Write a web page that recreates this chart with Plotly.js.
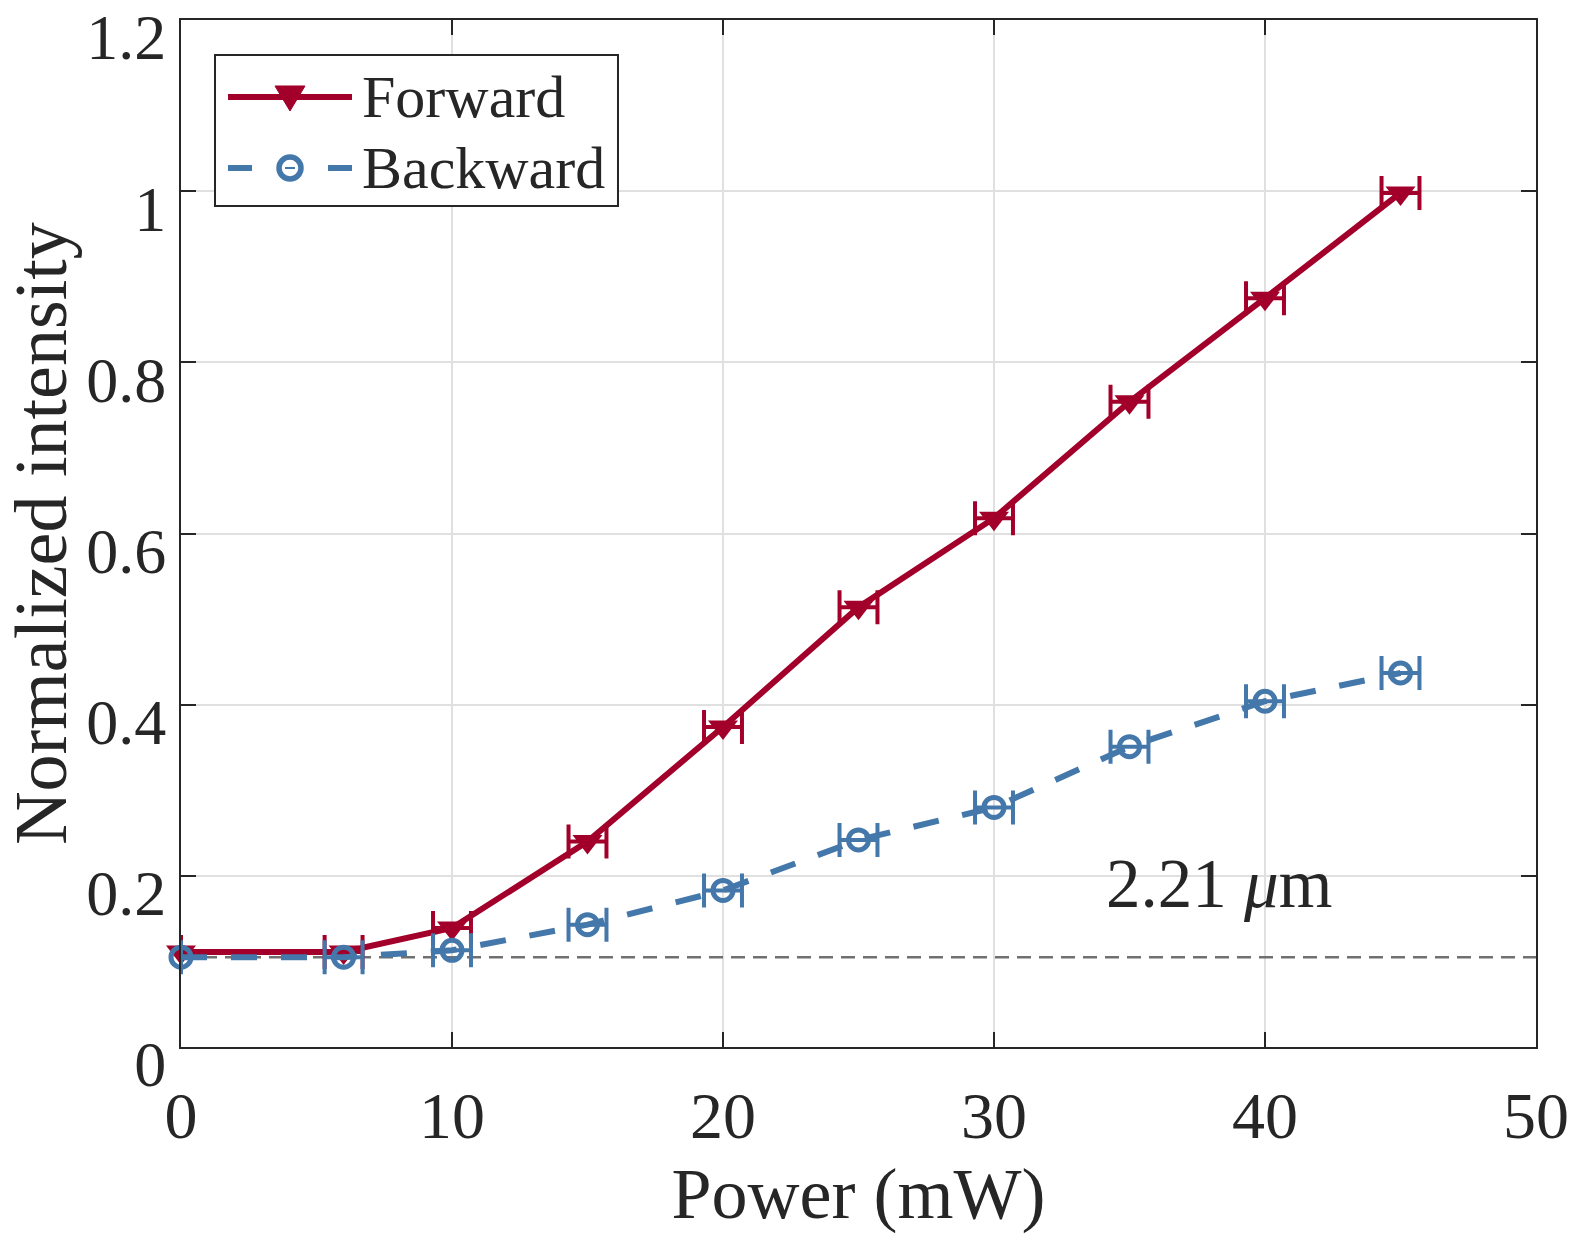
<!DOCTYPE html>
<html>
<head>
<meta charset="utf-8">
<script src="https://cdn.plot.ly/plotly-3.0.1.min.js"></script>
<style>html,body{margin:0;padding:0;background:#fff;}#chart{width:1570px;height:1234px;}</style>
</head>
<body>
<div id="chart"></div>
<script>
const power = [0, 6, 10, 15, 20, 25, 30, 35, 40, 45];
const forward = [0.111, 0.111, 0.139, 0.240, 0.374, 0.514, 0.618, 0.754, 0.875, 0.998];
const backward = [0.105, 0.105, 0.113, 0.143, 0.183, 0.242, 0.280, 0.351, 0.404, 0.437];
const powerErr = [null, 0.7, 0.7, 0.7, 0.7, 0.7, 0.7, 0.7, 0.7, 0.7];
const baselineX = [0, 50];
const baselineY = [0.105, 0.105];
const seriesNames = ['Forward', 'Backward'];
const labelText = '2.21 <i>μ</i>m';
const labelPos = {x: 38.3, y: 0.19};
const xTicks = [0, 10, 20, 30, 40, 50];
const yTicks = [0, 0.2, 0.4, 0.6, 0.8, 1, 1.2];

const red = '#A2002A';
const blue = '#4477AA';
const ink = '#262626';

const traces = [
  {
    x: baselineX, y: baselineY, mode: 'lines', showlegend: false, hoverinfo: 'skip',
    line: {color: '#707070', width: 2.5, dash: '14px,8px'}
  },
  {
    x: power, y: forward, name: seriesNames[0], mode: 'lines+markers', showlegend: false,
    cliponaxis: false,
    line: {color: red, width: 6},
    marker: {symbol: 'triangle-down', size: 26, color: red},
    error_x: {type: 'data', array: powerErr, visible: true, color: red, thickness: 4, width: 17}
  },
  {
    x: power, y: backward, name: seriesNames[1], mode: 'lines+markers', showlegend: false,
    cliponaxis: false,
    line: {color: blue, width: 6, dash: '26px,24px'},
    marker: {symbol: 'circle-open', size: 20, color: blue, line: {color: blue, width: 5}},
    error_x: {type: 'data', array: powerErr, visible: true, color: blue, thickness: 4, width: 17}
  }
];

const font = {family: '"Liberation Serif", "Times New Roman", serif', color: ink};
const f = s => Object.assign({size: s}, font);

// legend drawn as a framed key in paper coordinates
const shapes = [
  {type: 'rect', xref: 'paper', yref: 'paper', x0: 0.0251, x1: 0.3225, y0: 0.8189, y1: 0.9659,
   line: {color: ink, width: 2}, fillcolor: '#fff', layer: 'above'},
  {type: 'line', xref: 'paper', yref: 'paper', x0: 0.0347, x1: 0.1262, y0: 0.9250, y1: 0.9250,
   line: {color: red, width: 6}, layer: 'above'},
  {type: 'path', xref: 'paper', yref: 'paper', path: 'M0.06937,0.93574 L0.09151,0.93574 L0.08044,0.91139 Z',
   line: {color: red, width: 1}, fillcolor: red, layer: 'above'},
  {type: 'line', xref: 'paper', yref: 'paper', x0: 0.03469, x1: 0.05240, y0: 0.85589, y1: 0.85589,
   line: {color: blue, width: 6}, layer: 'above'},
  {type: 'line', xref: 'paper', yref: 'paper', x0: 0.10849, x1: 0.12620, y0: 0.85589, y1: 0.85589,
   line: {color: blue, width: 6}, layer: 'above'},
  {type: 'circle', xref: 'paper', yref: 'paper', x0: 0.07232, x1: 0.08856, y0: 0.84518, y1: 0.86660,
   line: {color: blue, width: 5.5}, fillcolor: 'rgba(0,0,0,0)', layer: 'above'},
  {type: 'line', xref: 'paper', yref: 'paper', x0: 0.07675, x1: 0.08413, y0: 0.85589, y1: 0.85589,
   line: {color: blue, width: 2}, layer: 'above'}
];

const layout = {
  width: 1570, height: 1234,
  margin: {l: 181, r: 34, t: 20, b: 187},
  paper_bgcolor: '#fff', plot_bgcolor: '#fff',
  font: f(60),
  showlegend: false,
  xaxis: {
    range: [0, 50], tickvals: xTicks,
    showgrid: true, gridcolor: '#e0e0e0', gridwidth: 2,
    zeroline: false, showline: true, linecolor: ink, linewidth: 2, mirror: 'ticks',
    ticks: 'inside', ticklen: 15, tickwidth: 2, tickcolor: ink,
    tickfont: f(66), ticklabelstandoff: 10, ticklabeloverflow: 'allow',
    title: {text: 'Power (mW)', font: f(72), standoff: 24}
  },
  yaxis: {
    range: [0, 1.2001], tickvals: yTicks,
    showgrid: true, gridcolor: '#e0e0e0', gridwidth: 2,
    zeroline: false, showline: true, linecolor: ink, linewidth: 2, mirror: 'ticks',
    ticks: 'inside', ticklen: 15, tickwidth: 2, tickcolor: ink,
    tickfont: f(64), ticklabelshift: 17, ticklabeloverflow: 'allow',
    title: {text: 'Normalized intensity', font: f(74), standoff: 10}
  },
  shapes: shapes,
  annotations: [
    {x: labelPos.x, y: labelPos.y, xref: 'x', yref: 'y', text: labelText, showarrow: false,
     font: f(69), xanchor: 'center', yanchor: 'middle'},
    {x: 0.1321, y: 0.9250, xref: 'paper', yref: 'paper', text: seriesNames[0], showarrow: false,
     font: f(60), xanchor: 'left', yanchor: 'middle'},
    {x: 0.1321, y: 0.8559, xref: 'paper', yref: 'paper', text: seriesNames[1], showarrow: false,
     font: f(60), xanchor: 'left', yanchor: 'middle'}
  ]
};

Plotly.newPlot('chart', traces, layout, {displayModeBar: false, staticPlot: true});
</script>
</body>
</html>
